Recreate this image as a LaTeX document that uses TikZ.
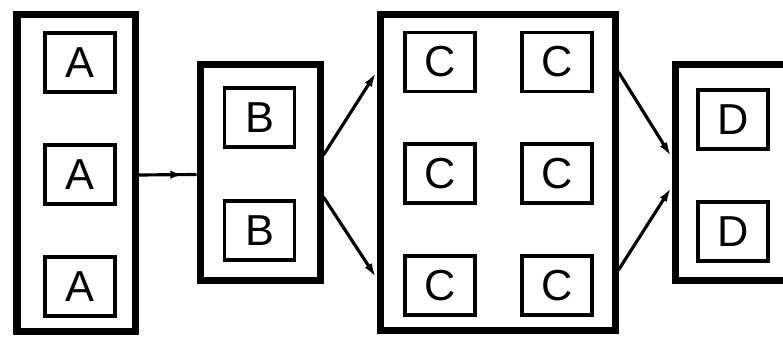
\documentclass[tikz,border=0pt]{standalone}
\usepackage{fontspec}
\setmainfont{Liberation Sans}
\usetikzlibrary{positioning,arrows.meta,decorations.markings}

\begin{document}
\begin{tikzpicture}[
    x=0.3mm, y=0.3mm,
    node distance=14.7mm and 13mm,
    frame/.style={draw, line width=2.1mm, minimum width=36mm, minimum height=64.5mm},
    cell/.style={draw, line width=1.15mm, minimum width=21mm, minimum height=17.7mm,
        inner sep=0pt, font=\fontsize{37}{40}\selectfont},
    link/.style={line width=0.95mm, -{Latex[length=4.5mm, width=2.4mm]}},
    midarrow/.style={line width=0.95mm, postaction={decorate},
        decoration={markings, mark=at position #1 with {\arrow{Latex[length=3.5mm, width=2.6mm]}}}}
]
\clip (0,0) rectangle (783,336);

% outer frames
\node[frame, minimum width=35.4mm, minimum height=94.8mm] (aframe) at (76,163) {};
\node[frame] (bframe) at (260,163.5) {};
\node[frame, minimum width=70.5mm, minimum height=94.5mm] (cframe) at (497.5,163.5) {};
\node[frame] (dframe) at (735,163.5) {};

% A column
\node[cell] (a1) at (80,273.5) {A};
\node[cell, below=of a1] (a2) {A};
\node[cell, below=of a2] (a3) {A};

% B column
\node[cell] (b1) at (259.5,218.5) {B};
\node[cell, below=15mm of b1] (b2) {B};

% C grid
\node[cell] (c11) at (440,274) {C};
\node[cell, right=of c11] (c12) {C};
\node[cell, below=of c11] (c21) {C};
\node[cell, right=of c21] (c22) {C};
\node[cell, below=of c21] (c31) {C};
\node[cell, right=of c31] (c32) {C};

% D column
\node[cell] (d1) at (733,216.5) {D};
\node[cell, below=of d1] (d2) {D};

\draw[midarrow=0.75] ([yshift=-0.6mm]aframe.east) -- ([yshift=-0.6mm]bframe.west);
\draw[link] ([yshift=5.25mm]bframe.east) -- ([yshift=30.15mm]cframe.west);
\draw[link] ([yshift=-7.35mm]bframe.east) -- ([yshift=-31.65mm]cframe.west);
\draw[link] ([yshift=30.15mm]cframe.east) -- ([yshift=4.65mm]dframe.west);
\draw[link] ([yshift=-29.25mm]cframe.east) -- ([yshift=-4.35mm]dframe.west);
\end{tikzpicture}
\end{document}
